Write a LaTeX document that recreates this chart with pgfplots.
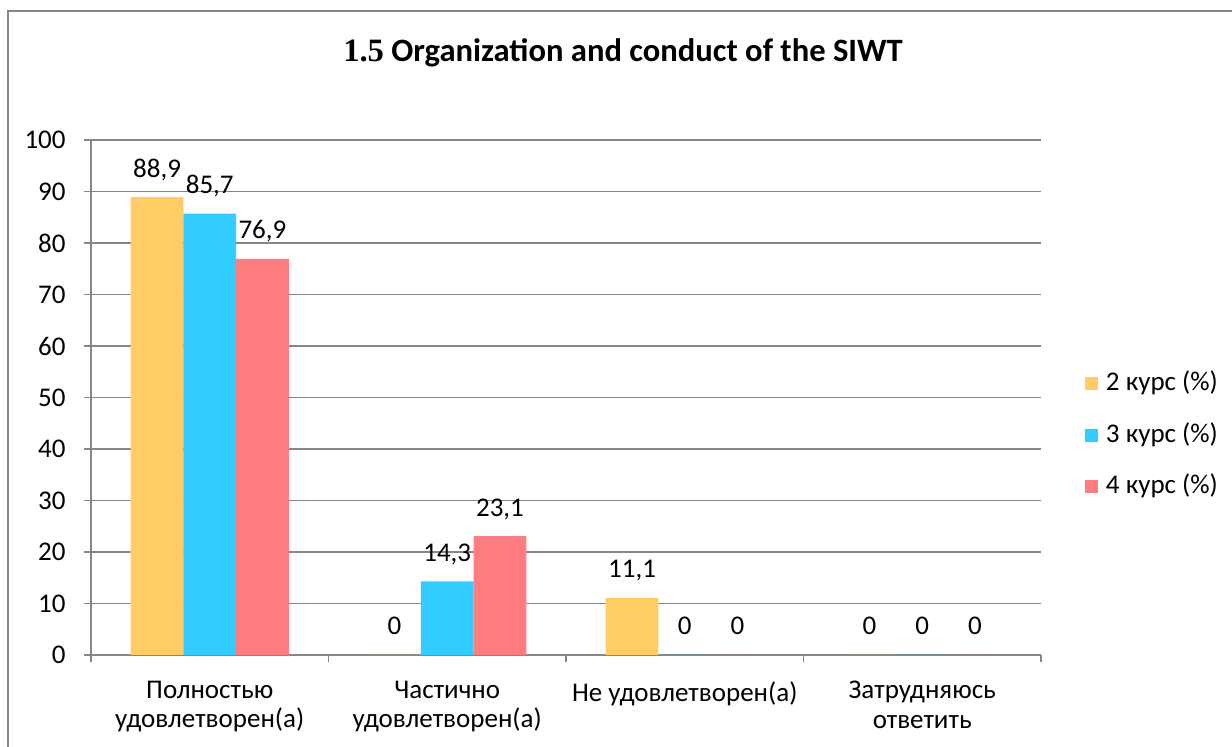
\documentclass[border=0pt]{standalone}
\usepackage{pgfplots}
\pgfplotsset{compat=1.18}
\usepackage{fontspec}
\setmainfont{Carlito}
\newfontfamily\timesf{Liberation Serif}
\definecolor{cA}{HTML}{FFCC66}
\definecolor{cB}{HTML}{33CCFF}
\definecolor{cC}{HTML}{FF7C80}
\definecolor{gridc}{HTML}{868686}
\begin{document}
\begin{tikzpicture}
\begin{axis}[
  at={(45.5pt,46pt)}, anchor=south west,
  scale only axis, width=475pt, height=257.5pt,
  ybar=0pt, bar width=26.35pt,
  xmin=-0.5, xmax=3.5, ymin=0, ymax=100,
  ytick={0,10,...,100},
  xtick={0,1,2,3},
  xticklabels={Полностью\\удовлетворен(а), Частично\\удовлетворен(а), Не удовлетворен(а), Затрудняюсь\\ответить},
  minor xtick={-0.5,0.5,1.5,2.5,3.5},
  major x tick style={draw=none},
  minor tick length=3.5pt, major tick length=3.5pt,
  tick align=outside,
  axis x line*=bottom, axis y line*=left,
  axis line style={gridc, line width=0.75pt, -},
  tick style={gridc, line width=0.75pt},
  ymajorgrids, grid style={gridc, line width=0.75pt},
  /pgf/number format/assume math mode=true,
  tick label style={font=\fontsize{13.5}{14}\selectfont, text=black},
  xticklabel style={align=center, inner sep=0pt, anchor=north, yshift=-9.5pt, font=\fontsize{13.5}{14.6}\selectfont},
  yticklabel style={inner sep=0pt, anchor=east, xshift=-9pt},
  nodes near coords={\pgfmathprintnumber[use comma,fixed,precision=1]{\pgfplotspointmeta}},
  nodes near coords align={anchor=base},
  every node near coord/.append style={font=\fontsize{13.5}{14}\selectfont, yshift=10pt, inner sep=0pt, text=black},
  legend style={at={(axis description cs:1.0463,0.427)}, anchor=west, draw=none, fill=none,
    inner sep=0pt, outer sep=0pt, row sep=13.75pt,
    nodes={inner sep=0pt, font=\fontsize{13.5}{14}\selectfont, text height=9.5pt, text depth=2.5pt},
    /tikz/every odd column/.append style={column sep=4pt}},
  legend cell align=left,
]
\addplot[fill=cA, draw=none, legend image code/.code={\fill[cA] (0pt,-3.25pt) rectangle (6.5pt,3.25pt);}] coordinates {(0,88.9) (1,0) (2,11.1) (3,0)};
\addplot[fill=cB, draw=none, legend image code/.code={\fill[cB] (0pt,-3.25pt) rectangle (6.5pt,3.25pt);}] coordinates {(0,85.7) (1,14.3) (2,0) (3,0)};
\addplot[fill=cC, draw=none, legend image code/.code={\fill[cC] (0pt,-3.25pt) rectangle (6.5pt,3.25pt);}] coordinates {(0,76.9) (1,23.1) (2,0) (3,0)};
\legend{2 курс (\%), 3 курс (\%), 4 курс (\%)}
\end{axis}
\draw[gridc, line width=0.75pt] (4pt,0pt) -- (4pt,368pt) -- (620pt,368pt);
\node[anchor=base, inner sep=0pt, font=\fontsize{16.3}{19}\selectfont\bfseries] at (311.5pt,342.5pt) {{\timesf 1.5} Organization and conduct of the SIWT};
\pgfresetboundingbox
\useasboundingbox (0pt,0pt) rectangle (616pt,373.5pt);
\end{tikzpicture}
\end{document}
